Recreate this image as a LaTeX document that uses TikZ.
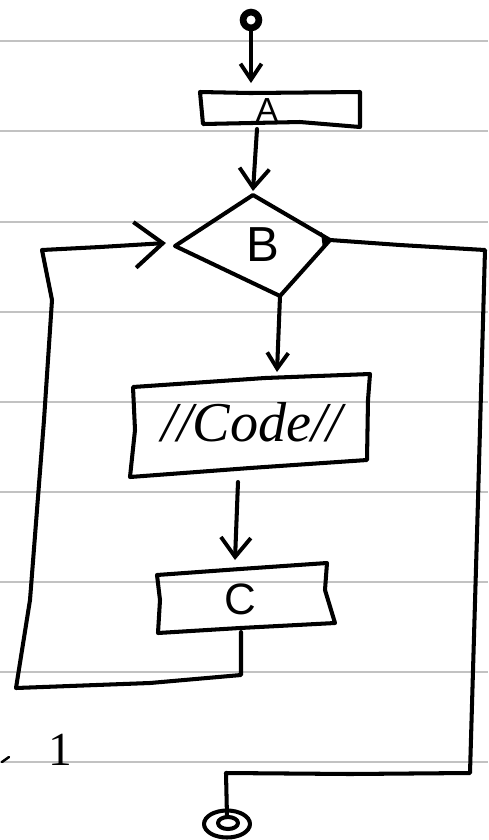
\documentclass[tikz,border=0pt]{standalone}
\usepackage{fontspec}
\setmainfont{Liberation Sans}
\newfontfamily\codefont{Liberation Serif}
\usetikzlibrary{arrows.meta}

\begin{document}
\begin{tikzpicture}[x=0.02cm,y=-0.02cm,
  ink/.style={line width=2.3pt, line join=round, line cap=round},
  flow/.style={ink, -{Straight Barb[length=11pt,width=17pt,line width=2.2pt]}},
  smallflow/.style={ink, -{Straight Barb[length=9pt,width=12pt,line width=2.2pt]}},
  bigflow/.style={ink, -{Straight Barb[length=16pt,width=26pt,line width=2.3pt]}},
  ruling/.style={line width=1.6pt, draw=black!24},
  letter/.style={inner sep=0pt, text=black}]

\useasboundingbox (0,0) rectangle (488,840);
\fill[white] (0,0) rectangle (488,840);

% ruled paper
\foreach \yy in {41,131,222,312,402,492,582,672,762}
  \draw[ruling] (0,\yy) -- (488,\yy);

% start point
\node (s) [circle, draw, line width=3.8pt, minimum size=9pt, inner sep=0pt] at (251,20) {};

% box A
\coordinate (a-nw) at (200,92);
\coordinate (a-ne) at (360,92);
\coordinate (a-se) at (360,127);
\coordinate (a-sw) at (203,124);
\draw[ink] (a-nw) -- (250,93) -- (a-ne) -- (a-se) -- (300,122) -- (a-sw) -- cycle;
\node (A) [letter, font=\fontsize{19}{19}\selectfont] at (267,110) {A};
\coordinate (a-top) at (251,83);
\coordinate (a-bot) at (257,129);

% decision B
\coordinate (b-top) at (253,195);
\coordinate (b-right) at (330,240);
\coordinate (b-bot) at (280,296);
\coordinate (b-left) at (175,246);
\draw[ink] (b-top) -- (b-right) -- (b-bot) -- (b-left) -- cycle;
\fill (b-right) -- (321,232) -- (323,249) -- cycle;
\node (B) [letter, font=\fontsize{28}{28}\selectfont] at (263,245) {B};
\coordinate (b-in) at (253,191);
\coordinate (b-entry) at (166,243);

% code box
\coordinate (k-nw) at (133,387);
\coordinate (k-ne) at (370,374);
\coordinate (k-se) at (367,460);
\coordinate (k-sw) at (130,477);
\draw[ink] (k-nw) -- (265,378) -- (k-ne) -- (368,400) -- (k-se) -- (250,468) -- (k-sw) -- (135,430) -- cycle;
\node (K) [letter, font=\codefont\itshape\fontsize{32}{32}\selectfont] at (252,422) {//Code//};
\coordinate (k-top) at (277,372);
\coordinate (k-bot) at (238,482);

% box C
\coordinate (c-nw) at (157,575);
\coordinate (c-ne) at (327,563);
\coordinate (c-se) at (335,623);
\coordinate (c-sw) at (158,633);
\draw[ink] (c-nw) -- (240,569) -- (c-ne) -- (325,590) -- (c-se) -- (240,628) -- (c-sw) -- (160,600) -- cycle;
\node (C) [letter, font=\fontsize{25}{25}\selectfont] at (240,599) {C};
\coordinate (c-top) at (235,560);
\coordinate (c-bot) at (241,632);

% end point
\coordinate (e) at (227,824);
\draw[ink] (e) ellipse [x radius=0.46cm, y radius=0.27cm];
\draw[ink] (228,823) ellipse [x radius=0.2cm, y radius=0.12cm];
\coordinate (e-top) at (227,817);

% main flow
\draw[smallflow] (s) -- (a-top);
\draw[flow] (a-bot) -- (b-in);
\draw[smallflow] (b-bot) -- (k-top);
\draw[flow] (k-bot) -- (c-top);

% loop back from C into B
\coordinate (l1) at (241,675);
\coordinate (l2) at (16,688);
\coordinate (l3) at (42,250);
\draw[bigflow] (c-bot) -- (l1) -- (150,683) -- (l2) -- (30,600) -- (44,420)
  -- (52,300) -- (l3) -- (100,247) -- (b-entry);

% exit from B to the end
\coordinate (r1) at (485,250);
\coordinate (r2) at (470,773);
\coordinate (r3) at (226,773);
\draw[ink] (b-right) -- (400,245) -- (r1) -- (478,500) -- (r2) -- (350,774) -- (r3) -- (e-top);

% margin note
\node (n1) [letter, font=\codefont\fontsize{27}{27}\selectfont] at (60,750) {1};
\draw[ink, line width=1.4pt] (2,762) -- (9,757);
\end{tikzpicture}
\end{document}
